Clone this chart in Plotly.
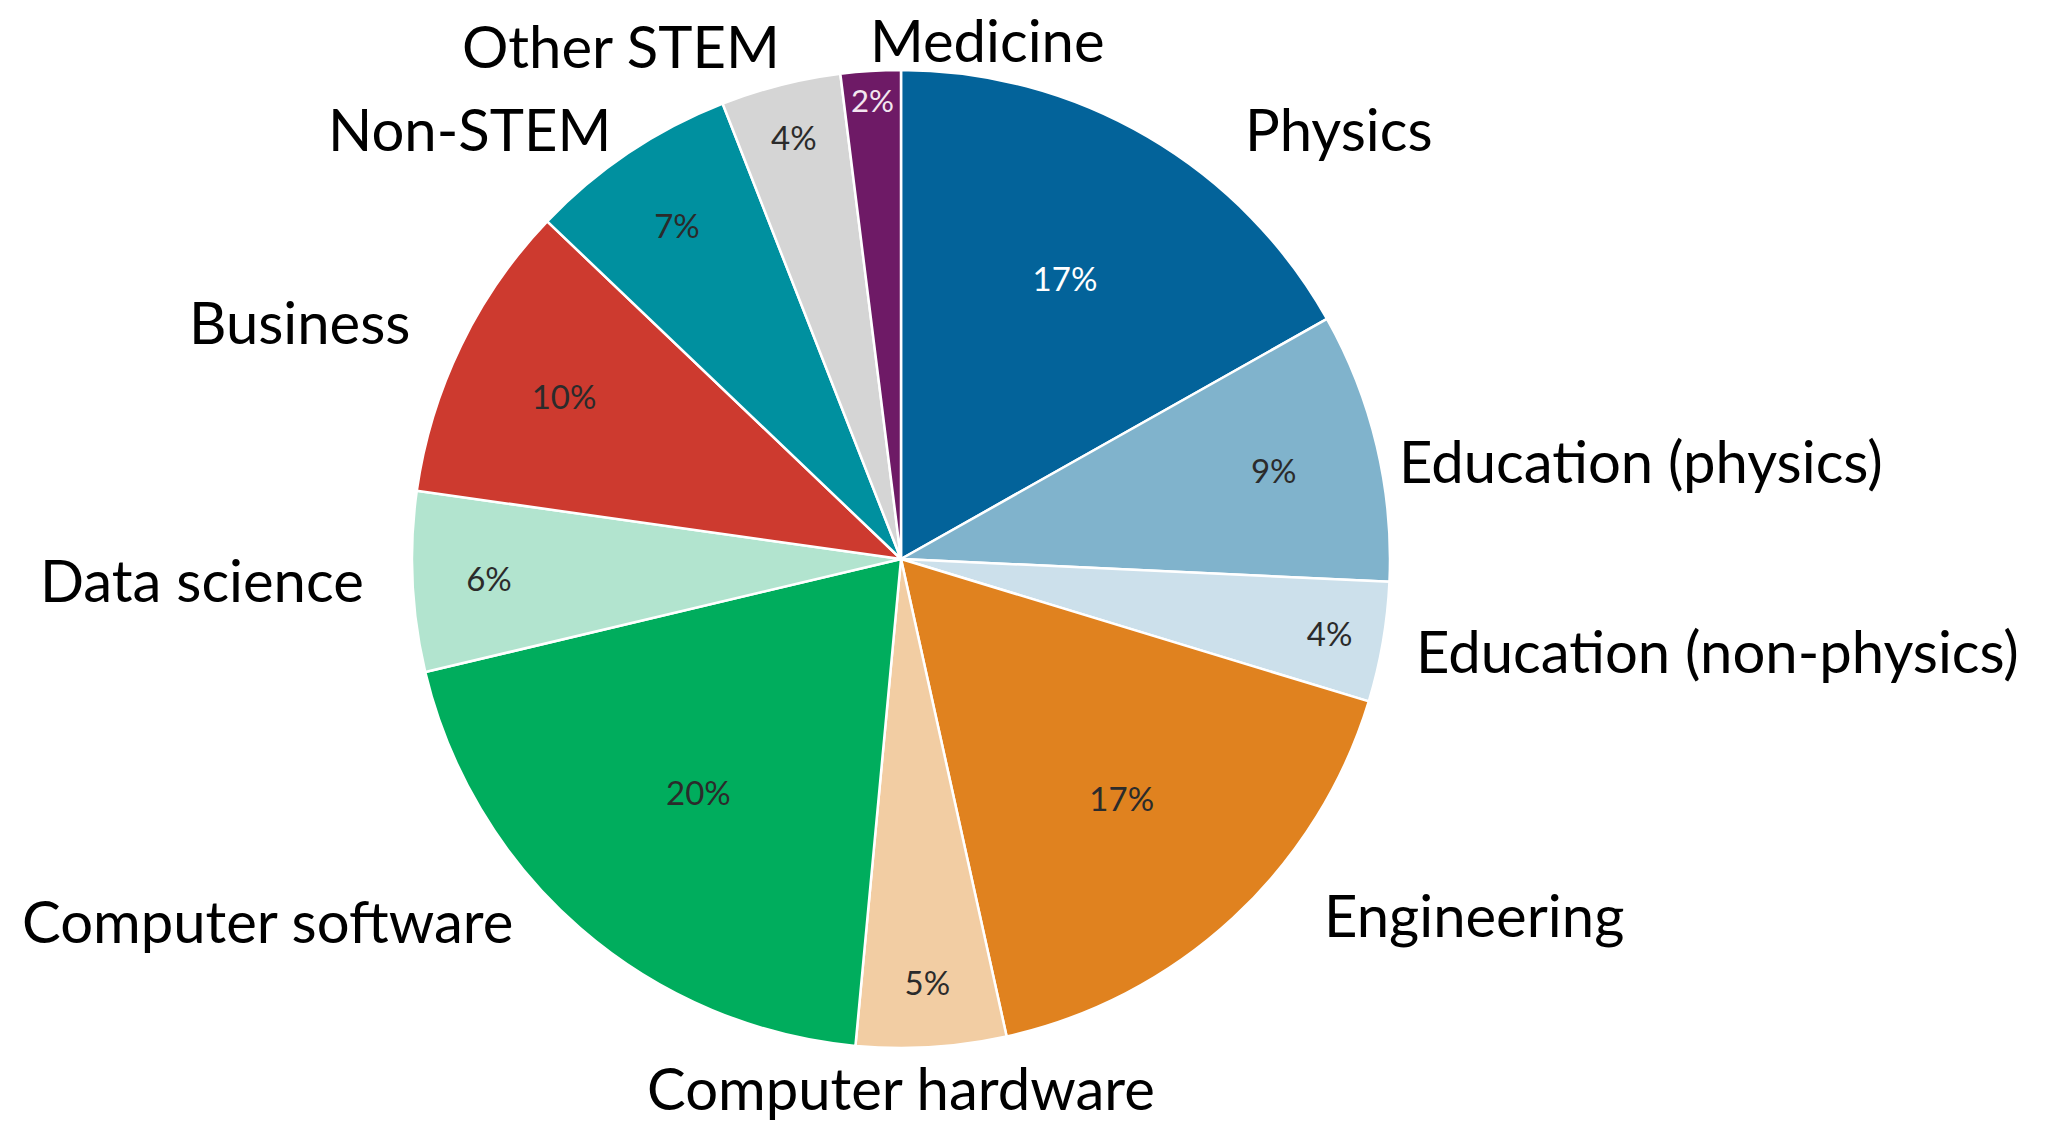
import plotly.graph_objects as go

# Career destinations of physics graduates (share of respondents, %)
categories = [
    "Physics",
    "Education (physics)",
    "Education (non-physics)",
    "Engineering",
    "Computer hardware",
    "Computer software",
    "Data science",
    "Business",
    "Non-STEM",
    "Other STEM",
    "Medicine",
]
shares = [17, 9, 4, 17, 5, 20, 6, 10, 7, 4, 2]

colors = [
    "#03639A", "#80B3CC", "#CCE0EB", "#E0821F", "#F2CDA3",
    "#00AD5D", "#B2E4CF", "#CD3A2F", "#00909F", "#D5D5D5", "#6E1A66",
]
pct_colors = [
    "#FFFFFF", "#2B2B2B", "#2B2B2B", "#2B2B2B", "#2B2B2B",
    "#2B2B2B", "#2B2B2B", "#2B2B2B", "#2B2B2B", "#2B2B2B", "#F3E6F0",
]

# Category-name placement around the pie: offset from the pie centre in
# units of the pie radius (x right, y down) and the horizontal anchor.
name_layout = [
    (0.700, -0.880, "left"),
    (1.014, -0.202, "left"),
    (1.049, 0.188, "left"),
    (0.861, 0.726, "left"),
    (0.000, 1.080, "center"),
    (-0.789, 0.740, "right"),
    (-1.094, 0.041, "right"),
    (-1.000, -0.485, "right"),
    (-0.589, -0.881, "right"),
    (-0.243, -1.050, "right"),
    (-0.067, -1.062, "left"),
]

W, H = 2062, 1126
CX, CY, R = 901, 559, 489  # pie centre and radius in pixels

dom = dict(
    x=[(CX - R) / W, (CX + R) / W],
    y=[1 - (CY + R) / H, 1 - (CY - R) / H],
)

fig = go.Figure()

# coloured slices with the percentage inside each one
fig.add_trace(go.Pie(
    labels=categories,
    values=shares,
    sort=False,
    direction="clockwise",
    rotation=0,
    domain=dom,
    marker=dict(colors=colors, line=dict(color="white", width=2.5)),
    texttemplate="%{value}%",
    textposition="inside",
    insidetextorientation="horizontal",
    insidetextfont=dict(family="Lato", size=33, color=pct_colors),
    hoverinfo="label+value",
    showlegend=False,
))

# category names around the pie
for name, (dx, dy, anchor) in zip(categories, name_layout):
    fig.add_annotation(
        x=(CX + dx * R) / W,
        y=1 - (CY + dy * R) / H,
        xref="paper",
        yref="paper",
        text=name,
        showarrow=False,
        xanchor=anchor,
        yanchor="middle",
        font=dict(family="Lato", size=58, color="#000000"),
    )

fig.update_layout(
    width=W,
    height=H,
    margin=dict(l=0, r=0, t=0, b=0),
    paper_bgcolor="white",
    plot_bgcolor="white",
)

fig.write_html("out.html")
